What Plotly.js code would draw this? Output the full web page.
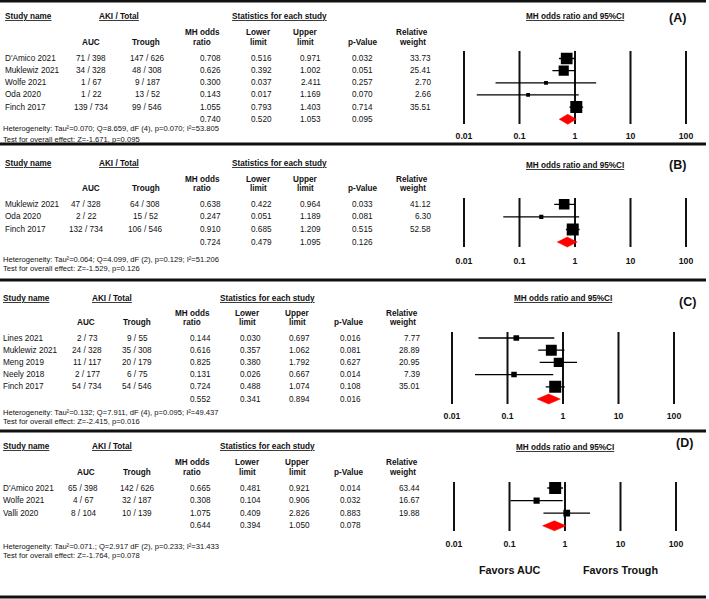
<!DOCTYPE html>
<html><head><meta charset="utf-8">
<script src="https://cdn.plot.ly/plotly-3.0.1.min.js"></script>
<style>html,body{margin:0;padding:0;background:#fff}</style>
</head><body><div id="chart" style="width:709px;height:599px"></div>
<script>
// ---------------- DATA ----------------
const tickVals = [0.01, 0.1, 1, 10, 100];
const tickText = ['0.01', '0.1', '1', '10', '100'];

// Panel A
const studiesA = ["D'Amico 2021", "Muklewiz 2021", "Wolfe 2021", "Oda 2020", "Finch 2017"];
const aucA = ["71 / 398", "34 / 328", "1 / 67", "1 / 22", "139 / 734"];
const troughA = ["147 / 626", "48 / 308", "9 / 187", "13 / 52", "99 / 546"];
const orA = [0.708, 0.626, 0.300, 0.143, 1.055];
const lowA = [0.516, 0.392, 0.037, 0.017, 0.793];
const upA = [0.971, 1.002, 2.411, 1.169, 1.403];
const pA = [0.032, 0.051, 0.257, 0.070, 0.714];
const wA = [33.73, 25.41, 2.70, 2.66, 35.51];
const summaryA = [0.740, 0.520, 1.053, 0.095];
const hetA = ["Heterogeneity: Tau²=0.070; Q=8.659, dF (4), p=0.070; I²=53.805", "Test for overall effect: Z=-1.671, p=0.095"];

// Panel B
const studiesB = ["Muklewiz 2021", "Oda 2020", "Finch 2017"];
const aucB = ["47 / 328", "2 / 22", "132 / 734"];
const troughB = ["64 / 308", "15 / 52", "106 / 546"];
const orB = [0.638, 0.247, 0.910];
const lowB = [0.422, 0.051, 0.685];
const upB = [0.964, 1.189, 1.209];
const pB = [0.033, 0.081, 0.515];
const wB = [41.12, 6.30, 52.58];
const summaryB = [0.724, 0.479, 1.095, 0.126];
const hetB = ["Heterogeneity: Tau²=0.064; Q=4.099, dF (2), p=0.129; I²=51.206", "Test for overall effect: Z=-1.529, p=0.126"];

// Panel C
const studiesC = ["Lines 2021", "Muklewiz 2021", "Meng 2019", "Neely 2018", "Finch 2017"];
const aucC = ["2 / 73", "24 / 328", "11 / 117", "2 / 177", "54 / 734"];
const troughC = ["9 / 55", "35 / 308", "20 / 179", "6 / 75", "54 / 546"];
const orC = [0.144, 0.616, 0.825, 0.131, 0.724];
const lowC = [0.030, 0.357, 0.380, 0.026, 0.488];
const upC = [0.697, 1.062, 1.792, 0.667, 1.074];
const pC = [0.016, 0.081, 0.627, 0.014, 0.108];
const wC = [7.77, 28.89, 20.95, 7.39, 35.01];
const summaryC = [0.552, 0.341, 0.894, 0.016];
const hetC = ["Heterogeneity: Tau²=0.132; Q=7.911, dF (4), p=0.095; I²=49.437", "Test for overall effect: Z=-2.415, p=0.016"];

// Panel D
const studiesD = ["D'Amico 2021", "Wolfe 2021", "Valli 2020"];
const aucD = ["65 / 398", "4 / 67", "8 / 104"];
const troughD = ["142 / 626", "32 / 187", "10 / 139"];
const orD = [0.665, 0.308, 1.075];
const lowD = [0.481, 0.104, 0.409];
const upD = [0.921, 0.906, 2.826];
const pD = [0.014, 0.032, 0.883];
const wD = [63.44, 16.67, 19.88];
const summaryD = [0.644, 0.394, 1.050, 0.078];
const hetD = ["Heterogeneity: Tau²=0.071.; Q=2.917 dF (2), p=0.233; I²=31.433", "Test for overall effect: Z=-1.764, p=0.078"];

const panelTags = ['(A)', '(B)', '(C)', '(D)'];
const favorLabels = ['Favors AUC', 'Favors Trough'];
const favorAt = [0.1, 10];

// ---------------- LAYOUT GEOMETRY ----------------
const W = 709, H = 599;
const F = 'Liberation Sans, Arial, Helvetica, sans-serif';
const TXT = '#111';

const colsAB = {name:4, mh:222, low:273, up:322, p:374, w:432, hName:4, hAki:119, hStats:279, hAuc:91, hTrough:146, hMh:202, hLow:258, hUp:305, hP:363, hW:412, het:1.5};
const colsCD = {name:1.5, mh:212, low:262, up:311, p:362, w:421, hName:2, hAki:112, hStats:267, hAuc:86, hTrough:137, hMh:192, hLow:247, hUp:297, hP:349, hW:402, het:1.5};

const borderYs = [1, 144, 280, 431, 597];
const panels = [
  {studies:studiesA, auc:aucA, trough:troughA, or:orA, low:lowA, up:upA, p:pA, w:wA, sum:summaryA, het:hetA,
   g:{top:borderYs[0], bot:borderYs[1], p0:58.5, step:12.15, lineTop:51, lineBot:124, x0:464, x1:686, hdr:[17,33,43], hetY:[128,139], tag:[677,18], mhY:17, tls:5, aucX:91, troughX:147, cols:colsAB}},
  {studies:studiesB, auc:aucB, trough:troughB, or:orB, low:lowB, up:upB, p:pB, w:wB, sum:summaryB, het:hetB,
   g:{top:borderYs[1], bot:borderYs[2], p0:204.3, step:12.6, lineTop:198, lineBot:247, x0:464, x1:686, hdr:[163,179,188], hetY:[259,268], tag:[677,165], mhY:165, tls:7, aucX:86, troughX:145, cols:colsAB}},
  {studies:studiesC, auc:aucC, trough:troughC, or:orC, low:lowC, up:upC, p:pC, w:wC, sum:summaryC, het:hetC,
   g:{top:borderYs[2], bot:borderYs[3], p0:338, step:12.2, lineTop:332, lineBot:404, x0:452, x1:674, hdr:[298,313,322], hetY:[412,421], tag:[687,302], mhY:298, tls:5, aucX:87, troughX:137, cols:colsCD}},
  {studies:studiesD, auc:aucD, trough:troughD, or:orD, low:lowD, up:upD, p:pD, w:wD, sum:summaryD, het:hetD,
   g:{top:borderYs[3], bot:borderYs[4], p0:488, step:12.6, lineTop:482, lineBot:531, x0:454, x1:676, hdr:[446,462,472], hetY:[546,555], tag:[684,443], mhY:447, tls:6, aucX:83, troughX:137, cols:colsCD}}
];

const layout = {
  width: W, height: H, margin:{l:0,r:0,t:0,b:0},
  paper_bgcolor:'#fff', plot_bgcolor:'rgba(0,0,0,0)', showlegend:false,
  annotations:[], shapes:[]
};
const traces = [];

function ann(text, xPix, y, yref, anchor, size, extra) {
  layout.annotations.push(Object.assign({
    text: text, x: xPix / W, xref:'paper', y: y, yref: yref,
    xanchor: anchor, yanchor:'middle', showarrow:false, borderpad:0,
    font:{family:F, size:size, color:TXT}
  }, extra || {}));
}

panels.forEach((P, i) => {
  const n = i + 1;
  const xa = n === 1 ? 'xaxis' : 'xaxis' + n, ya = n === 1 ? 'yaxis' : 'yaxis' + n;
  const xr = n === 1 ? 'x' : 'x' + n, yr = n === 1 ? 'y' : 'y' + n;
  const g = P.g, c = g.cols;
  const rowOf = pix => (pix - g.p0) / g.step;
  const pad = 0.3, dec = (g.x1 - g.x0) / 4;

  // forest x axis: tick labels placed just under the reference lines
  layout[xa] = {type:'log', range:[-2 - pad, 2 + pad],
    domain:[(g.x0 - pad * dec) / W, (g.x1 + pad * dec) / W], anchor:'free', position: 1 - g.lineBot / H,
    tickmode:'array', tickvals: tickVals, ticktext: tickText,
    showgrid:false, zeroline:false, showline:false, ticks:'',
    ticklabelstandoff: g.tls,
    tickfont:{family:F, size:8.7, color:TXT, weight:'bold'}, fixedrange:true};
  // row axis spanning the whole panel (row index units)
  layout[ya] = {range:[rowOf(g.bot), rowOf(g.top)],
    domain:[1 - g.bot / H, 1 - g.top / H], anchor: xr,
    showgrid:false, zeroline:false, showticklabels:false, ticks:'', showline:false, fixedrange:true};

  // vertical reference lines at the tick values
  const rx = [], ry = [];
  tickVals.forEach(v => { rx.push(v, v, null); ry.push(rowOf(g.lineTop), rowOf(g.lineBot), null); });
  traces.push({type:'scatter', mode:'lines', x:rx, y:ry, xaxis:xr, yaxis:yr,
    line:{color:'#111', width:2}, hoverinfo:'skip', connectgaps:false});

  // header texts
  const hb = {font:{family:F, size:8.2, color:TXT, weight:'bold'}};
  const h0 = rowOf(g.hdr[0]), h1 = rowOf(g.hdr[1]), h2 = rowOf(g.hdr[2]);
  ann('<u>Study name</u>', c.hName, h0, yr, 'left', 8.2, hb);
  ann('<u>AKI / Total</u>', c.hAki, h0, yr, 'center', 8.2, hb);
  ann('<u>Statistics for each study</u>', c.hStats, h0, yr, 'center', 8.2, hb);
  ann('MH odds', c.hMh, h1, yr, 'center', 8.2, hb);
  ann('Lower', c.hLow, h1, yr, 'center', 8.2, hb);
  ann('Upper', c.hUp, h1, yr, 'center', 8.2, hb);
  ann('Relative', c.hW, h1, yr, 'center', 8.2, hb);
  ann('AUC', c.hAuc, h2, yr, 'center', 8.2, hb);
  ann('Trough', c.hTrough, h2, yr, 'center', 8.2, hb);
  ann('ratio', c.hMh, h2, yr, 'center', 8.2, hb);
  ann('limit', c.hLow, h2, yr, 'center', 8.2, hb);
  ann('limit', c.hUp, h2, yr, 'center', 8.2, hb);
  ann('p-Value', c.hP, h2, yr, 'center', 8.2, hb);
  ann('weight', c.hW, h2, yr, 'center', 8.2, hb);

  // forest header (centred on OR = 1; log axes take log10 positions) and panel tag
  layout.annotations.push({text:'<u>MH odds ratio and 95%CI</u>', x:Math.log10(1), xref:xr, y:rowOf(g.mhY), yref:yr,
    xanchor:'center', yanchor:'middle', showarrow:false, borderpad:0,
    font:{family:F, size:8.2, color:TXT, weight:'bold'}});
  ann(panelTags[i], g.tag[0], rowOf(g.tag[1]), yr, 'center', 12.5, {font:{family:F, size:12.5, color:TXT, weight:'bold'}});

  // study rows
  P.studies.forEach((s, k) => {
    ann(s, c.name, k, yr, 'left', 8.2);
    ann(P.auc[k], g.aucX, k, yr, 'center', 8.2);
    ann(P.trough[k], g.troughX, k, yr, 'center', 8.2);
    ann(P.or[k].toFixed(3), c.mh, k, yr, 'right', 8.2);
    ann(P.low[k].toFixed(3), c.low, k, yr, 'right', 8.2);
    ann(P.up[k].toFixed(3), c.up, k, yr, 'right', 8.2);
    ann(P.p[k].toFixed(3), c.p, k, yr, 'right', 8.2);
    ann(P.w[k].toFixed(2), c.w, k, yr, 'right', 8.2);
  });
  const rs = P.studies.length;
  ann(P.sum[0].toFixed(3), c.mh, rs, yr, 'right', 8.2);
  ann(P.sum[1].toFixed(3), c.low, rs, yr, 'right', 8.2);
  ann(P.sum[2].toFixed(3), c.up, rs, yr, 'right', 8.2);
  ann(P.sum[3].toFixed(3), c.p, rs, yr, 'right', 8.2);

  // heterogeneity
  ann(P.het[0], c.het, rowOf(g.hetY[0]), yr, 'left', 7.6);
  ann(P.het[1], c.het, rowOf(g.hetY[1]), yr, 'left', 7.6);

  // CI lines
  const cx = [], cy = [];
  P.low.forEach((lo, k) => { cx.push(lo, P.up[k], null); cy.push(k, k, null); });
  traces.push({type:'scatter', mode:'lines', x:cx, y:cy, xaxis:xr, yaxis:yr,
    line:{color:'#000', width:1.3}, hoverinfo:'skip', connectgaps:false});
  // squares
  const wmax = Math.max(...P.w);
  traces.push({type:'scatter', mode:'markers', x:P.or, y:P.studies.map((_, k) => k), xaxis:xr, yaxis:yr,
    marker:{symbol:'square', color:'#000', opacity:1, size:P.w.map(v => Math.max(3.8, 12 * Math.sqrt(v / wmax))), line:{width:0}},
    hoverinfo:'skip'});
  // summary diamond
  const hh = 5 / g.step;
  traces.push({type:'scatter', mode:'lines', x:[P.sum[1], P.sum[0], P.sum[2], P.sum[0], P.sum[1]],
    y:[rs, rs - hh, rs, rs + hh, rs], fill:'toself', fillcolor:'#ff0000',
    line:{color:'#ff0000', width:0.5}, xaxis:xr, yaxis:yr, hoverinfo:'skip'});

  if (i === 3) {
    favorLabels.forEach((tx, j) => {
      layout.annotations.push({text:tx, x:Math.log10(favorAt[j]), xref:xr, y:rowOf(570), yref:yr,
        xanchor:'center', yanchor:'middle', showarrow:false, borderpad:0,
        font:{family:F, size:10.8, color:TXT, weight:'bold'}});
    });
  }
});

borderYs.forEach(yp => {
  layout.shapes.push({type:'line', xref:'paper', yref:'paper', x0:0, x1:706 / W, y0:1 - yp / H, y1:1 - yp / H,
    line:{color:'#111', width:3}});
});

Plotly.newPlot('chart', traces, layout, {staticPlot:true, displayModeBar:false});
</script>
</body></html>
